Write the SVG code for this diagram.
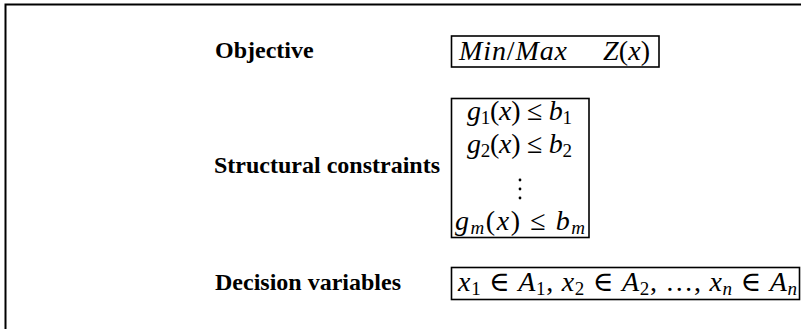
<svg xmlns="http://www.w3.org/2000/svg" width="801" height="329" viewBox="0 0 801 329">
<style>
.lbl{font-family:"Liberation Serif","Times New Roman",serif;font-weight:bold;font-size:24px;fill:#000}
.m{font-family:"Liberation Serif","DejaVu Serif",serif;font-size:28px;fill:#000}
.i{font-style:italic}
.s{font-size:19px}
.box{fill:#fff;stroke:#000;stroke-width:1.6}
</style>
<rect x="0" y="0" width="801" height="329" fill="#fff"/>
<path d="M5.5,329 V4.5 H801" fill="none" stroke="#000" stroke-width="2"/>
<g id="objective">
<text class="lbl" x="215" y="58">Objective</text>
<rect class="box" x="451.5" y="36" width="207.5" height="31"/>
<text class="m" y="60" x="459" textLength="108" lengthAdjust="spacing"><tspan class="i">Min</tspan><tspan>/</tspan><tspan class="i">Max</tspan></text>
<text class="m" y="60" x="603" textLength="47" lengthAdjust="spacing"><tspan class="i">Z</tspan><tspan>(</tspan><tspan class="i">x</tspan><tspan>)</tspan></text>
</g>
<g id="constraints">
<text class="lbl" x="214" y="173">Structural constraints</text>
<rect class="box" x="451.5" y="98.5" width="137.5" height="139"/>
<text class="m" y="120" x="467" textLength="105" lengthAdjust="spacing"><tspan class="i">g</tspan><tspan class="s" dy="4">1</tspan><tspan dy="-4">(</tspan><tspan class="i">x</tspan><tspan>) ≤ </tspan><tspan class="i">b</tspan><tspan class="s" dy="4">1</tspan></text>
<text class="m" y="153" x="467" textLength="105" lengthAdjust="spacing"><tspan class="i">g</tspan><tspan class="s" dy="4">2</tspan><tspan dy="-4">(</tspan><tspan class="i">x</tspan><tspan>) ≤ </tspan><tspan class="i">b</tspan><tspan class="s" dy="4">2</tspan></text>
<circle cx="520" cy="180" r="1.4"/>
<circle cx="520" cy="189" r="1.4"/>
<circle cx="520" cy="198" r="1.4"/>
<text class="m" y="230" x="455" textLength="130" lengthAdjust="spacing"><tspan class="i">g</tspan><tspan class="s i" dy="4">m</tspan><tspan dy="-4">(</tspan><tspan class="i">x</tspan><tspan>) ≤ </tspan><tspan class="i">b</tspan><tspan class="s i" dy="4">m</tspan></text>
</g>
<g id="variables">
<text class="lbl" x="215" y="290">Decision variables</text>
<rect class="box" x="451.5" y="267.5" width="348" height="32"/>
<text class="m" y="291" x="458" textLength="339" lengthAdjust="spacing"><tspan class="i">x</tspan><tspan class="s" dy="4">1</tspan><tspan dy="-4"> ∈ </tspan><tspan class="i">A</tspan><tspan class="s" dy="4">1</tspan><tspan dy="-4">, </tspan><tspan class="i">x</tspan><tspan class="s" dy="4">2</tspan><tspan dy="-4"> ∈ </tspan><tspan class="i">A</tspan><tspan class="s" dy="4">2</tspan><tspan dy="-4">, …, </tspan><tspan class="i">x</tspan><tspan class="s i" dy="4">n</tspan><tspan dy="-4"> ∈ </tspan><tspan class="i">A</tspan><tspan class="s i" dy="4">n</tspan></text>
</g>
</svg>
